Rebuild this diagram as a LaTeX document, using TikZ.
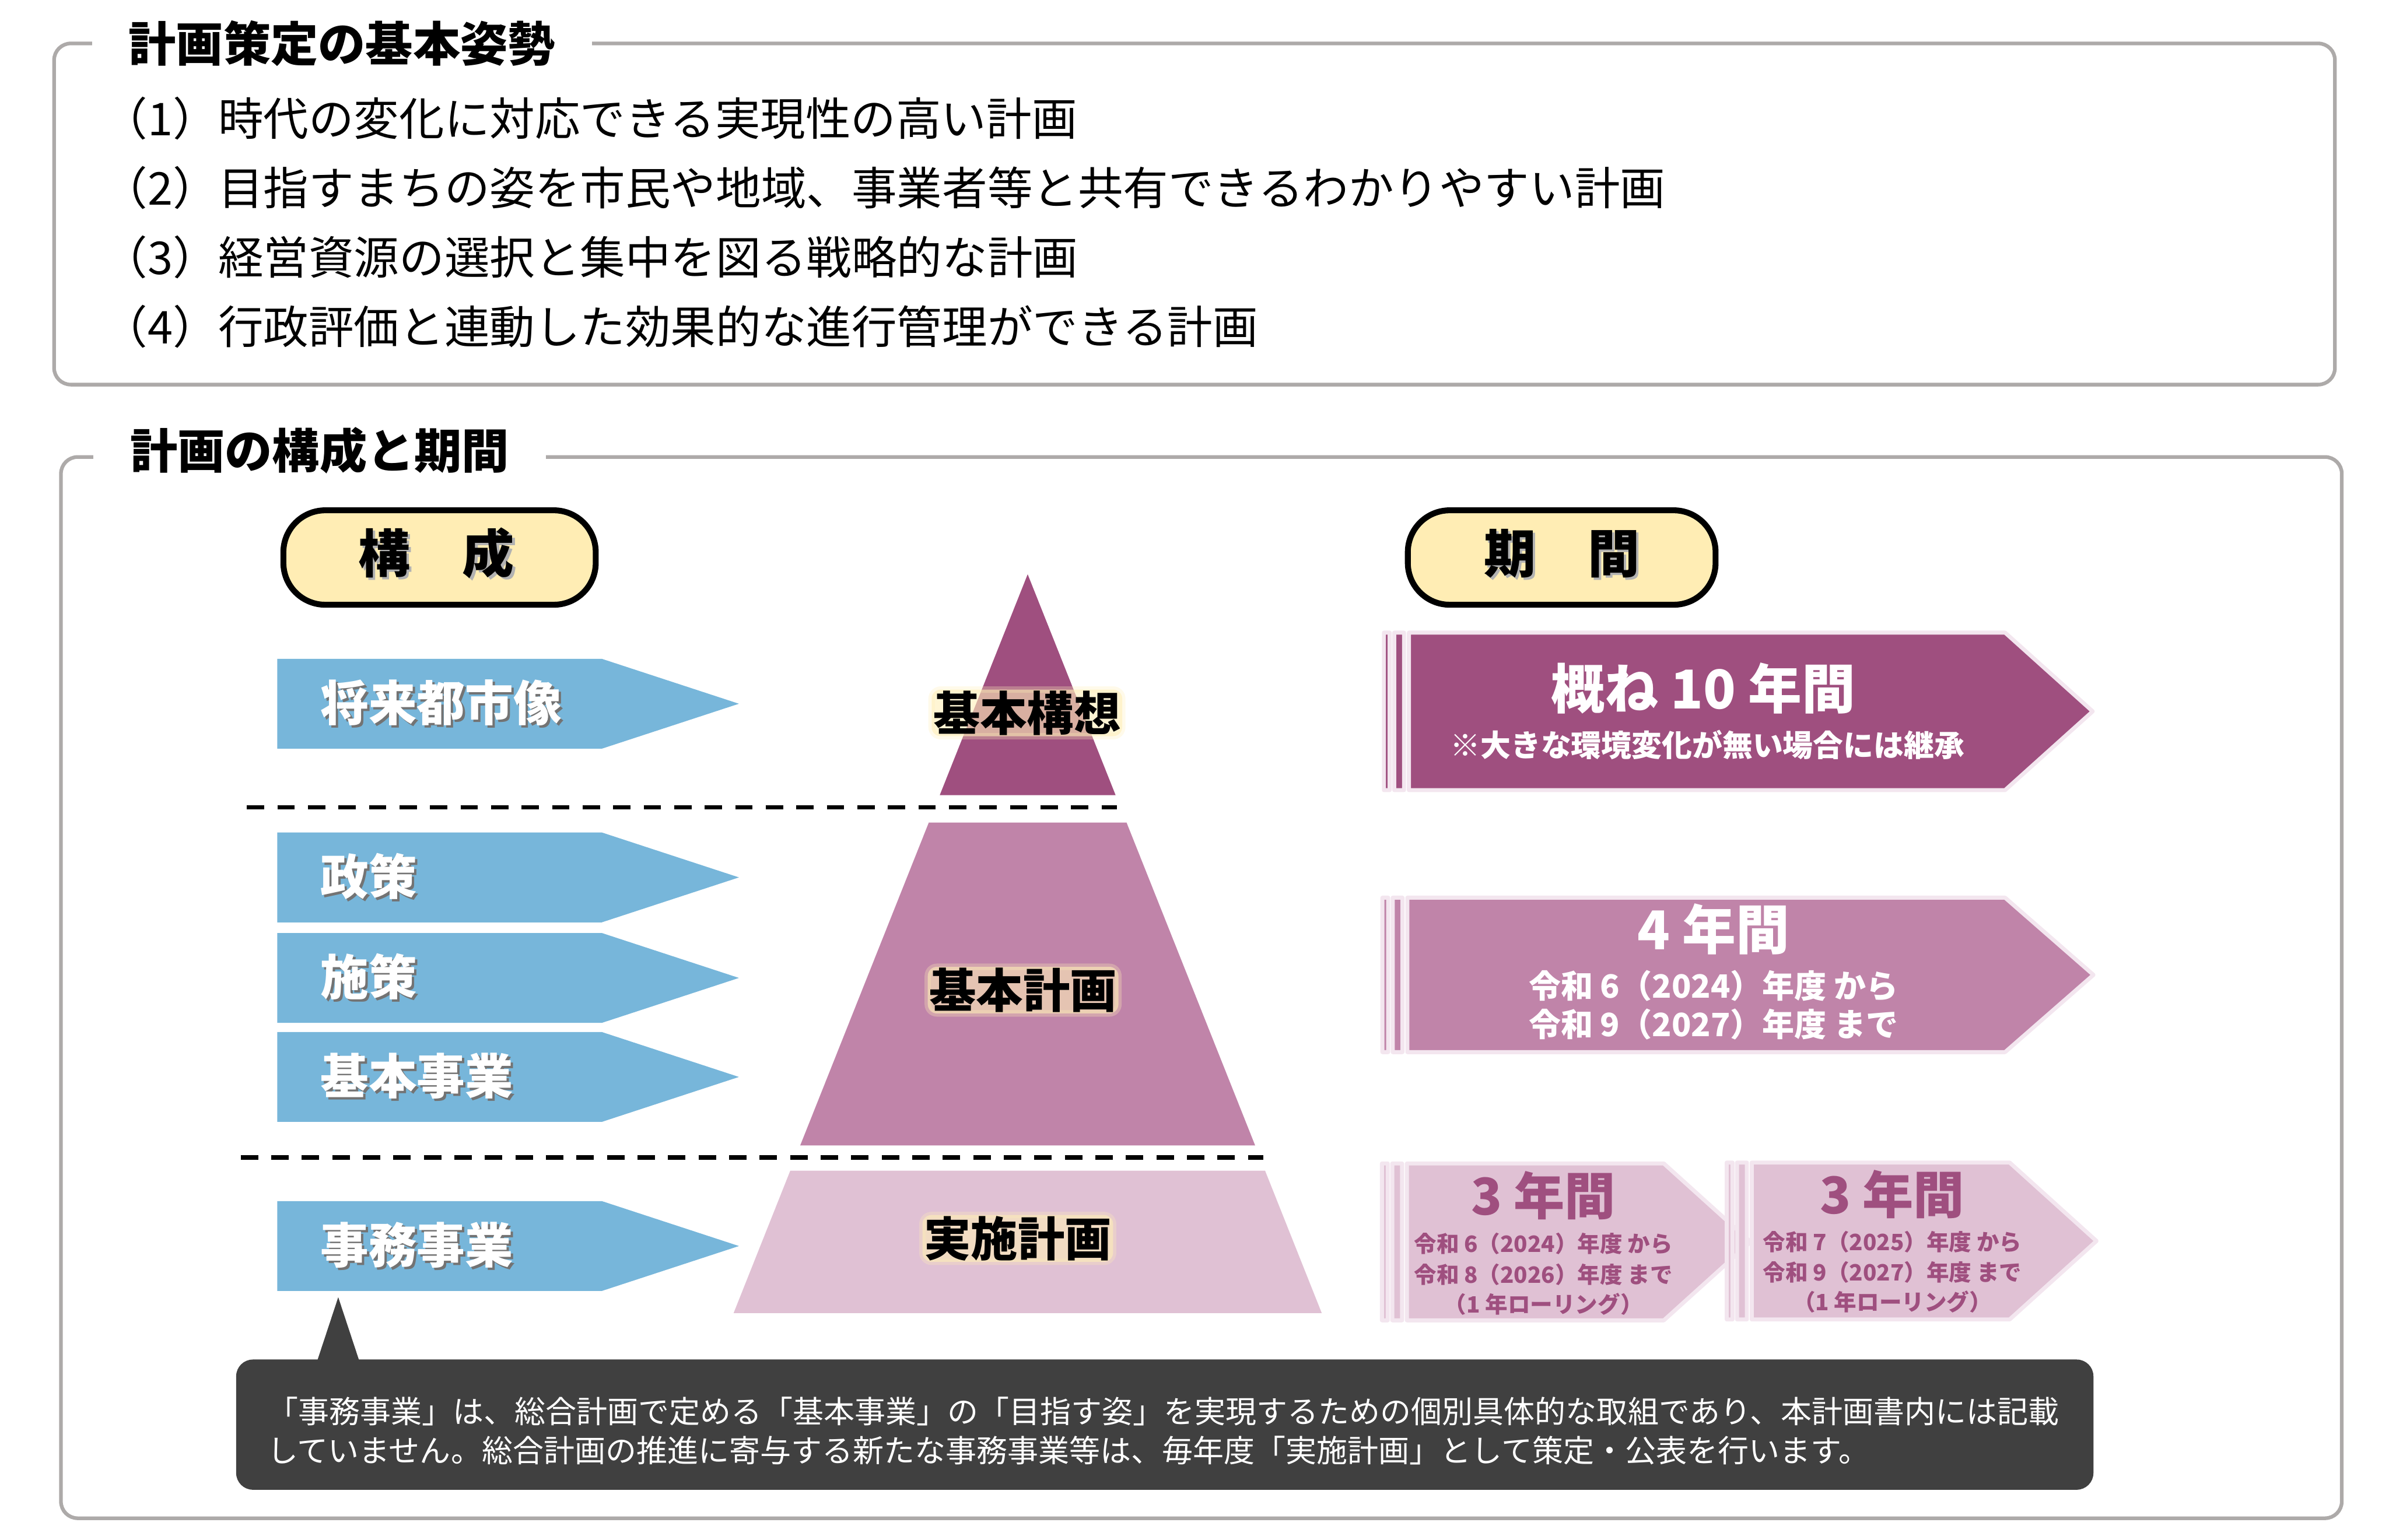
\documentclass[tikz,border=0pt]{standalone}
\usepackage{fontspec}
\setmainfont{Noto Sans CJK JP}
\usetikzlibrary{positioning}

\definecolor{framegray}{HTML}{ADAAA9}
\definecolor{plumdark}{HTML}{9F4F7F}
\definecolor{plummid}{HTML}{C084A9}
\definecolor{plumlight}{HTML}{E0C1D4}
\definecolor{plumedge}{HTML}{F3E6EF}
\definecolor{skyblue}{HTML}{77B6DA}
\definecolor{notegray}{HTML}{404040}
\definecolor{pillyellow}{HTML}{FFEDB4}
\definecolor{glowyellow}{HTML}{FFEFB8}

% text with a small drop shadow
\newcommand{\shadowed}[2]{\makebox[0pt][l]{\hspace{0.9pt}\raisebox{-0.9pt}{\textcolor{#1}{#2}}}#2}

% striped arrow: left, top, bottom, head start, tip, fill
\newcommand{\stripedarrow}[6]{%
  \filldraw[fill=#6, draw=plumedge, line width=1.5pt, line join=round]
    (#1,#2) rectangle ({#1+3.8},#3)
    ({#1+6.8},#2) rectangle ({#1+13.2},#3)
    ({#1+16.4},#2) -- (#4,#2) -- (#5,{(#2+#3)/2}) -- (#4,#3) -- ({#1+16.4},#3) -- cycle;}

\begin{document}
\begin{tikzpicture}[
x=0.2mm, y=-0.2mm,
frame/.style={draw=framegray, line width=1.37pt, rounded corners=2.2mm},
frametitle/.style={anchor=west, fill=white, inner xsep=13.7pt, font=\bfseries\fontsize{17.7}{20}\selectfont},
listitem/.style={anchor=west, inner sep=0pt, font=\fontsize{16.9}{20}\selectfont},
pill/.style={draw=black, line width=2.2pt, fill=pillyellow, rounded corners=5.5mm},
pilltext/.style={font=\bfseries\fontsize{19.4}{22}\selectfont},
bluelabel/.style={anchor=west, inner sep=0pt, text=white, font=\bfseries\fontsize{18}{20}\selectfont},
tierlabel/.style={inner xsep=0.6pt, inner ysep=0.4pt, rounded corners=1.2mm, fill=glowyellow, fill opacity=0.6,
  draw=glowyellow, draw opacity=0.3, line width=2.4pt, text opacity=1, font=\bfseries\fontsize{17.5}{20}\selectfont},
divider/.style={line width=1.7pt, dash pattern=on 6.5pt off 4.9pt},
periodbig/.style={inner sep=0pt, text=white, font=\bfseries\fontsize{20}{22}\selectfont},
periodnote/.style={inner sep=0pt, text=white, font=\bfseries\fontsize{11.3}{13}\selectfont},
periodsmall/.style={inner sep=0pt, text=white, font=\bfseries\fontsize{12}{14}\selectfont},
threebig/.style={inner sep=0pt, text=plumdark, font=\bfseries\fontsize{19}{21}\selectfont},
threesmall/.style={inner sep=0pt, text=plumdark, font=\bfseries\fontsize{8.4}{10}\selectfont},
notetext/.style={anchor=west, inner sep=0pt, text=white, font=\fontsize{11.55}{14}\selectfont}
]
\useasboundingbox (0,0) rectangle (1568,1011);

% frames
\draw[frame] (35.5,28.5) rectangle (1532.5,252.5);
\draw[frame] (40,300) rectangle (1537,996.7);

\node[frametitle] (stance) at (60,28.5) {計画策定の基本姿勢};
\node[frametitle] (structure) at (61,295.7) {計画の構成と期間};

\node[listitem] (aim1) at (67,77.6) {（1）時代の変化に対応できる実現性の高い計画};
\node[listitem, below=9.12mm of aim1.west, anchor=west] (aim2) {（2）目指すまちの姿を市民や地域、事業者等と共有できるわかりやすい計画};
\node[listitem, below=9.12mm of aim2.west, anchor=west] (aim3) {（3）経営資源の選択と集中を図る戦略的な計画};
\node[listitem, below=9.12mm of aim3.west, anchor=west] (aim4) {（4）行政評価と連動した効果的な進行管理ができる計画};

% headings
\draw[pill] (186,335) rectangle (391,397);
\node[pilltext] (kosei) at (286.5,364) {\shadowed{black!30}{構　成}};
\draw[pill] (924,335) rectangle (1126,397);
\node[pilltext] (kikan) at (1025,364) {\shadowed{black!30}{期　間}};

% components
\foreach \yc/\nm/\lab in {462/vision/将来都市像, 576/seisaku/政策, 642/shisaku/施策, 707/kihonjigyo/基本事業, 818/jimu/事務事業}{
  \fill[skyblue] (182,{\yc-29.5}) -- (395,{\yc-29.5}) -- (485,\yc) -- (395,{\yc+29.5}) -- (182,{\yc+29.5}) -- cycle;
  \node[bluelabel] (\nm) at (210,\yc) {\shadowed{black!55}{\lab}};
}

% pyramid
\fill[plumdark] (674.5,377) -- (732.2,522) -- (616.8,522) -- cycle;
\fill[plummid] (609.6,540) -- (739.4,540) -- (823.8,752) -- (525.2,752) -- cycle;
\fill[plumlight] (518.7,768.5) -- (830.3,768.5) -- (867.5,862) -- (481.5,862) -- cycle;
\node[tierlabel] (koso) at (674,468) {基本構想};
\node[tierlabel] (keikaku) at (671.5,650) {基本計画};
\node[tierlabel] (jisshi) at (668,813) {実施計画};

\draw[divider] (162,530) -- (733,530);
\draw[divider] (158,760) -- (829,760);

% periods
\stripedarrow{908.3}{415.3}{518.7}{1316}{1373.5}{plumdark}
\stripedarrow{907.3}{589.3}{690.7}{1316}{1374}{plummid}
\stripedarrow{907}{763.8}{866.8}{1092}{1149}{plumlight}
\stripedarrow{1133.3}{763.2}{866.2}{1319}{1376}{plumlight}

\node[periodbig] (ten) at (1118,452) {概ね 10 年間};
\node[periodnote] (tennote) at (1120.6,489) {※大きな環境変化が無い場合には継承};
\node[periodbig] (four) at (1124.7,610) {4 年間};
\node[periodsmall] (fourfrom) at (1124.7,647) {令和 6（2024）年度 から};
\node[periodsmall] (fourto) at (1124.7,672.5) {令和 9（2027）年度 まで};

\node[threebig] (threea) at (1013,785) {3 年間};
\node[threesmall] (threeafrom) at (1013,816.5) {令和 6（2024）年度 から};
\node[threesmall] (threeato) at (1013,836.6) {令和 8（2026）年度 まで};
\node[threesmall] (threearoll) at (1013,856) {（1 年ローリング）};

\node[threebig] (threeb) at (1242,784) {3 年間};
\node[threesmall] (threebfrom) at (1242,815.3) {令和 7（2025）年度 から};
\node[threesmall] (threebto) at (1242,835.3) {令和 9（2027）年度 まで};
\node[threesmall] (threebroll) at (1242,854.5) {（1 年ローリング）};

% note
\fill[notegray, rounded corners=2.2mm] (155,892.5) rectangle (1374,978);
\fill[notegray] (208,894) -- (222,851.6) -- (236,894) -- cycle;
\node[notetext] (note) at (175,926.4) {「事務事業」は、総合計画で定める「基本事業」の「目指す姿」を実現するための個別具体的な取組であり、本計画書内には記載};
\node[notetext] (notecont) at (175,952) {していません。総合計画の推進に寄与する新たな事務事業等は、毎年度「実施計画」として策定・公表を行います。};

\end{tikzpicture}
\end{document}
